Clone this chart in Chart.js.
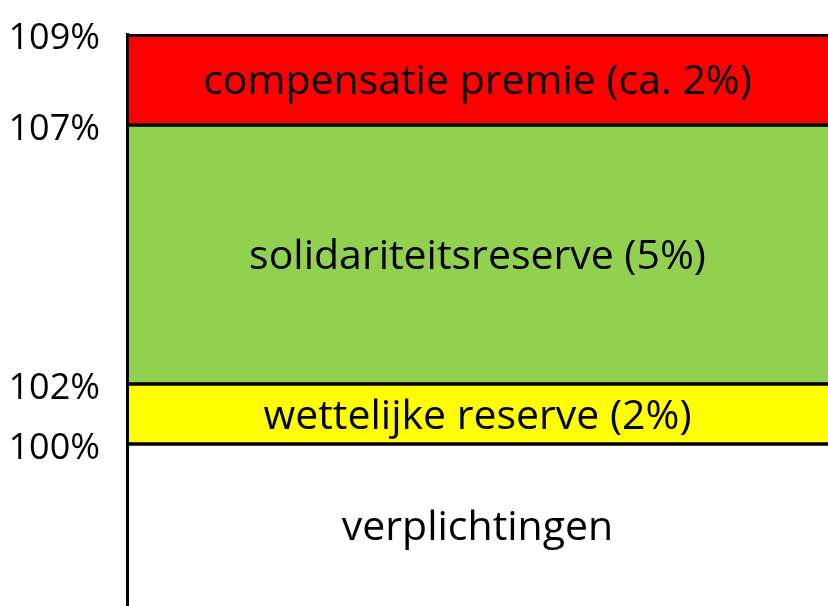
<!DOCTYPE html>
<html>
<head>
<meta charset="utf-8">
<script src="https://cdn.jsdelivr.net/npm/chart.js@4.4.1/dist/chart.umd.min.js"></script>
<style>
  html, body { margin: 0; padding: 0; background: #fff; }
  #wrap { width: 828px; height: 606px; position: relative; }
</style>
</head>
<body>
<div id="wrap"><canvas id="c"></canvas></div>
<script>
// ---- data ----
const categories = [''];
const segmentNames = ['verplichtingen', 'wettelijke reserve (2%)', 'solidariteitsreserve (5%)', 'compensatie premie (ca. 2%)'];
const segmentValues = [100, 2, 5, 2];
const tickValues = [100, 102, 107, 109];
const tickLabels = ['100%', '102%', '107%', '109%'];

// ---- styles ----
const segmentColors = ['#FFFFFF', '#FFFF00', '#92D050', '#FF0000'];
// schematic (non-proportional) axis: fraction of the axis height reached at each stack boundary
const axisFractions = [0, 0.2832, 0.3881, 0.8409, 1];

// stack boundaries derived from the data
const axisStops = [0];
segmentValues.forEach(v => axisStops.push(axisStops[axisStops.length - 1] + v));

class PiecewiseScale extends Chart.LinearScale {
  _decimal(value) {
    const s = axisStops, f = axisFractions;
    if (value <= s[0]) return f[0];
    for (let i = 0; i < s.length - 1; i++) {
      if (value <= s[i + 1]) {
        return f[i] + (value - s[i]) / (s[i + 1] - s[i]) * (f[i + 1] - f[i]);
      }
    }
    return f[f.length - 1];
  }
  getPixelForValue(value) {
    if (value === null || value === undefined || isNaN(value)) return NaN;
    return this.getPixelForDecimal(this._decimal(value));
  }
  getValueForPixel(pixel) {
    const d = this.getDecimalForPixel(pixel);
    const s = axisStops, f = axisFractions;
    for (let i = 0; i < f.length - 1; i++) {
      if (d <= f[i + 1]) return s[i] + (d - f[i]) / (f[i + 1] - f[i]) * (s[i + 1] - s[i]);
    }
    return s[s.length - 1];
  }
}
PiecewiseScale.id = 'piecewise';
PiecewiseScale.defaults = { ticks: { callback: v => v } };
Chart.register(PiecewiseScale);

const borderWidths = [
  { top: 2, bottom: 0, left: 0, right: 0 },
  { top: 2, bottom: 2, left: 0, right: 0 },
  { top: 2, bottom: 2, left: 0, right: 0 },
  { top: 3, bottom: 2, left: 0, right: 0 }
];

const datasets = segmentNames.map((name, i) => ({
  label: name,
  data: [segmentValues[i]],
  backgroundColor: segmentColors[i],
  borderColor: '#000000',
  borderWidth: borderWidths[i],
  borderSkipped: false,
  barPercentage: 1,
  categoryPercentage: 1
}));

const segmentLabelPlugin = {
  id: 'segmentLabels',
  afterDatasetsDraw(chart) {
    const ctx = chart.ctx;
    ctx.save();
    ctx.fillStyle = '#000';
    ctx.font = '41px "Open Sans"';
    ctx.textAlign = 'center';
    ctx.textBaseline = 'middle';
    chart.data.datasets.forEach((ds, i) => {
      const bar = chart.getDatasetMeta(i).data[0];
      if (!bar) return;
      const props = bar.getProps(['x', 'y', 'base'], true);
      ctx.fillText(ds.label, props.x, (props.y + props.base) / 2 + 3);
    });
    ctx.restore();
  }
};

new Chart(document.getElementById('c'), {
  type: 'bar',
  data: { labels: categories, datasets },
  plugins: [segmentLabelPlugin],
  options: {
    responsive: true,
    maintainAspectRatio: false,
    animation: false,
    layout: { padding: { top: 34, right: 0, bottom: 0, left: 0 } },
    plugins: { legend: { display: false }, tooltip: { enabled: false } },
    scales: {
      x: { display: false, stacked: true },
      y: {
        type: 'piecewise',
        stacked: true,
        min: 0,
        max: axisStops[axisStops.length - 1],
        position: 'left',
        grid: { display: false, drawTicks: false },
        border: { display: true, color: '#000', width: 3, z: 1 },
        ticks: {
          padding: 27,
          labelOffset: 5,
          color: '#000',
          font: { family: 'Open Sans', size: 36 },
          callback: (v) => {
            const k = tickValues.indexOf(v);
            return k >= 0 ? tickLabels[k] : '';
          }
        },
        afterBuildTicks: (s) => { s.ticks = tickValues.map(v => ({ value: v })); },
        afterFit: (s) => { s.width = 127; s.paddingTop = 0; s.paddingBottom = 0; }
      }
    }
  }
});
</script>
</body>
</html>
